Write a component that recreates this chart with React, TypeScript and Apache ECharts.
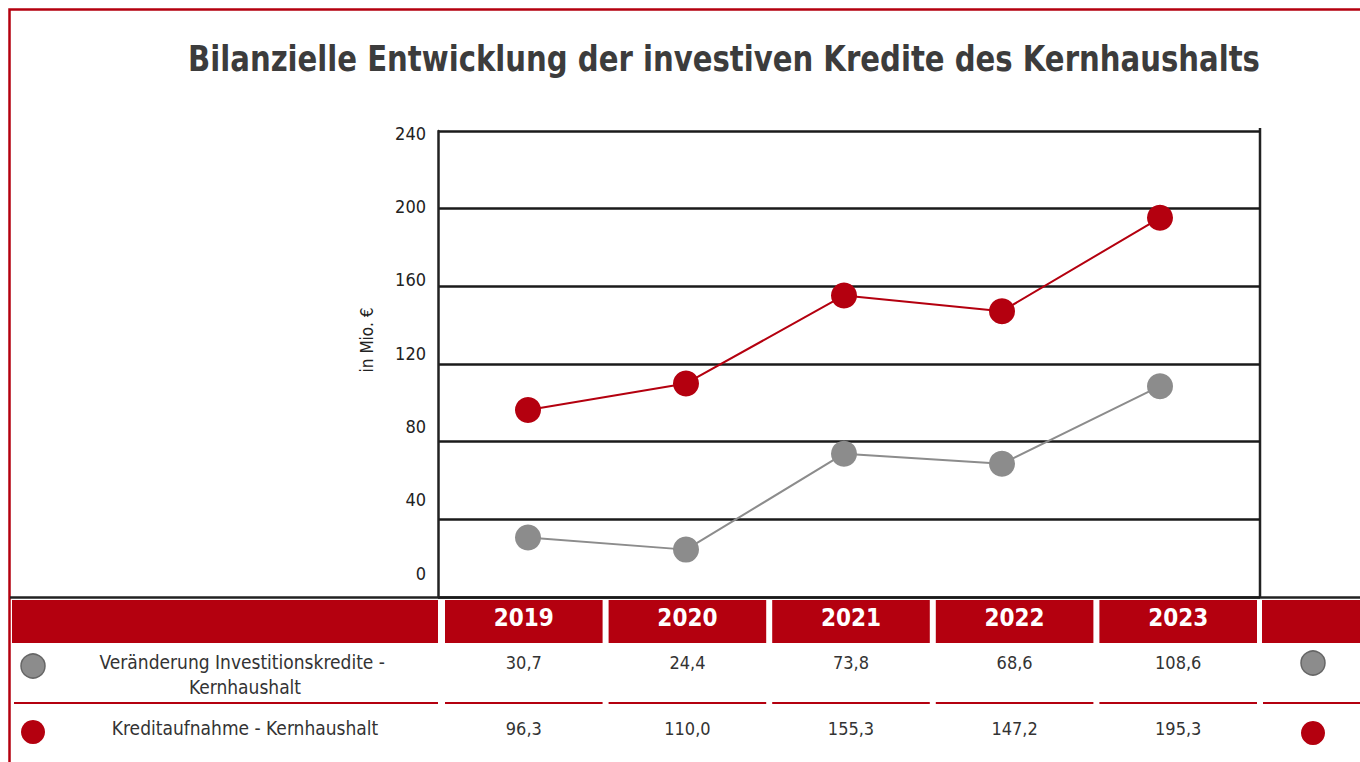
import React, { useEffect, useRef } from "react";
import * as echarts from "echarts";

const title = "Bilanzielle Entwicklung der investiven Kredite des Kernhaushalts";
const years = ["2019", "2020", "2021", "2022", "2023"];
const seriesNames = ["Veränderung Investitionskredite - Kernhaushalt", "Kreditaufnahme - Kernhaushalt"];
const investChange = [30.7, 24.4, 73.8, 68.6, 108.6];
const creditIntake = [96.3, 110.0, 155.3, 147.2, 195.3];
const yAxisName = "in Mio. €";
const yMin = 0;
const yMax = 240;
const yStep = 40;

const RED = "#b4000f";
const GRAY = "#8c8c8c";
const TXT = "#333333";
const FONT = "'Liberation Sans Narrow', 'DejaVu Sans Condensed', 'Roboto', sans-serif";

const fmt = (v: number) => v.toFixed(1).replace(".", ",");

export default function App() {
  const ref = useRef<HTMLDivElement>(null);
  useEffect(() => {
    if (!ref.current) return;
    const chart = echarts.init(ref.current, undefined, { renderer: "svg" });

    const W = 1360, H = 762;
    const gridL = 438, gridR = 1260, gridT = 131, gridB = 597;
    const colLeft = 441, colW = (1259 - 441) / 5;
    const headTop = 600, headH = 43;
    const row1Y = 663, row2Y = 729, sepY = 703;
    const labelX = 245;
    const allSeries = [investChange, creditIntake];
    const colors = [GRAY, RED];
    const center = { align: "center", verticalAlign: "middle", textAlign: "center", textVerticalAlign: "middle" };

    const g: any[] = [];
    g.push({ type: "rect", shape: { x: 9.5, y: 9.5, width: 1500, height: 900 }, style: { fill: "none", stroke: RED, lineWidth: 2.5 }, silent: true });
    g.push({ type: "text", x: 724, y: 58, scaleX: 0.9, style: { text: title, font: `bold 36px ${FONT}`, fill: "#3c3c3c", ...center } });
    g.push({ type: "text", x: 367, y: 340, rotation: Math.PI / 2, style: { text: yAxisName, font: `17px ${FONT}`, fill: "#222", ...center } });
    g.push({ type: "line", shape: { x1: 10, y1: gridB + 0.5, x2: W, y2: gridB + 0.5 }, style: { stroke: "#222", lineWidth: 2.5 } });
    g.push({ type: "line", shape: { x1: gridR, y1: 128, x2: gridR, y2: gridB }, style: { stroke: "#222", lineWidth: 2.5 } });
    g.push({ type: "rect", shape: { x: 12, y: headTop, width: gridL - 12, height: headH }, style: { fill: RED } });
    g.push({ type: "rect", shape: { x: 1262, y: headTop, width: W - 1262, height: headH }, style: { fill: RED } });
    years.forEach((yr, i) => {
      const x0 = colLeft + i * colW + 4;
      const cx = x0 + (colW - 6) / 2;
      g.push({ type: "rect", shape: { x: x0, y: headTop, width: colW - 6, height: headH }, style: { fill: RED } });
      g.push({ type: "text", x: cx, y: headTop + headH / 2 - 4, style: { text: yr, font: `bold 24px ${FONT}`, fill: "#fff", ...center } });
      allSeries.forEach((arr, r) => {
        g.push({ type: "text", x: cx, y: r === 0 ? row1Y - 1 : row2Y - 1, style: { text: fmt(arr[i]), font: `18px ${FONT}`, fill: TXT, ...center } });
      });
      g.push({ type: "line", shape: { x1: x0, y1: sepY, x2: x0 + colW - 6, y2: sepY }, style: { stroke: RED, lineWidth: 2 } });
    });
    g.push({ type: "line", shape: { x1: 14, y1: sepY, x2: gridL, y2: sepY }, style: { stroke: RED, lineWidth: 2 } });
    g.push({ type: "line", shape: { x1: 1263, y1: sepY, x2: W, y2: sepY }, style: { stroke: RED, lineWidth: 2 } });
    seriesNames.forEach((name, r) => {
      const yy = r === 0 ? row1Y : row2Y;
      g.push({ type: "text", x: labelX, y: r === 0 ? row1Y + 11 : row2Y - 1, style: { text: name, width: 310, overflow: "break", lineHeight: 25, font: `19px ${FONT}`, fill: TXT, ...center } });
      const st = r === 0 ? { fill: colors[r], stroke: "#666", lineWidth: 1.5 } : { fill: colors[r] };
      g.push({ type: "circle", shape: { cx: 33, cy: yy + 3, r: 12 }, style: st });
      g.push({ type: "circle", shape: { cx: 1313, cy: r === 0 ? yy : yy + 4, r: 12 }, style: st });
    });

    chart.setOption({
      animation: false,
      textStyle: { fontFamily: FONT },
      grid: [
        { left: gridL, right: W - gridR, top: gridT, bottom: H - gridB },
        { left: gridL, right: W - gridR, top: 133, bottom: H - 573 },
        { left: 449, right: W - 1239, top: gridT, bottom: H - gridB },
      ],
      xAxis: [
        { type: "category", gridIndex: 0, data: years, show: false },
        { type: "category", gridIndex: 1, data: years, show: false },
        { type: "category", gridIndex: 2, data: years, boundaryGap: true, show: false },
      ],
      yAxis: [
        {
          type: "value", gridIndex: 0, min: yMin, max: yMax, interval: yStep,
          axisLine: { show: true, lineStyle: { color: "#222", width: 2.5 } },
          axisTick: { show: false },
          axisLabel: { show: false },
          splitLine: { show: true, lineStyle: { color: "#1a1a1a", width: 2.5 } },
        },
        {
          type: "value", gridIndex: 1, min: yMin, max: yMax, interval: yStep,
          axisLine: { show: false },
          axisTick: { show: false },
          axisLabel: { fontSize: 18, color: "#222", margin: 12, fontFamily: FONT },
          splitLine: { show: false },
        },
        {
          type: "value", gridIndex: 2, min: yMin, max: yMax, interval: yStep, show: false,
          splitLine: { show: false },
        },
      ],
      series: [
        {
          name: seriesNames[0], type: "line", xAxisIndex: 2, yAxisIndex: 2,
          data: investChange, symbol: "circle", symbolSize: 26,
          lineStyle: { color: GRAY, width: 2 }, itemStyle: { color: GRAY }, z: 3,
        },
        {
          name: seriesNames[1], type: "line", xAxisIndex: 2, yAxisIndex: 2,
          data: creditIntake, symbol: "circle", symbolSize: 26,
          lineStyle: { color: RED, width: 2 }, itemStyle: { color: RED }, z: 4,
        },
      ],
      graphic: g,
    });
    return () => chart.dispose();
  }, []);
  return <div ref={ref} style={{ position: "absolute", left: 0, top: 0, width: 1360, height: 762, background: "#fff" }} />;
}
